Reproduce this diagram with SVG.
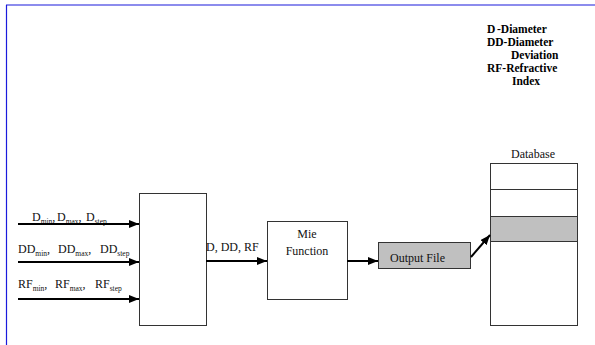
<svg xmlns="http://www.w3.org/2000/svg" width="595" height="345" viewBox="0 0 595 345">
<style>
text{font-family:'Liberation Serif','DejaVu Serif','Times New Roman',serif}
.t{font-size:12px;fill:#111}
.s{font-size:7.5px}
.lg{font-size:11.5px;font-weight:bold;fill:#000}
.box{fill:#fff;stroke:#333;stroke-width:1}
.gray{fill:#c0c0c0;stroke:#333;stroke-width:1}
.ln{stroke:#000;stroke-width:2;fill:none;marker-end:url(#ah)}
</style>
<defs>
<marker id="ah" markerUnits="userSpaceOnUse" markerWidth="11" markerHeight="9" refX="10" refY="4" orient="auto">
<path d="M0,0 L10,4 L0,8 z" fill="#000"/>
</marker>
</defs>
<rect x="0" y="0" width="595" height="345" fill="#fff"/>
<g id="frame">
<line x1="6" y1="5" x2="595" y2="5" stroke="#1a1adc" stroke-width="1.2"/>
<line x1="6.5" y1="5" x2="6.5" y2="345" stroke="#1a1adc" stroke-width="1.2"/>
</g>
<g id="legend">
<text class="lg" x="487" y="33">D<tspan x="497">-Diameter</tspan></text>
<text class="lg" x="487" y="46">DD-Diameter</text>
<text class="lg" x="511" y="59">Deviation</text>
<text class="lg" x="487" y="72">RF-Refractive</text>
<text class="lg" x="512" y="85">Index</text>
</g>
<g id="inputs">
<text class="t" y="221"><tspan x="32">D</tspan><tspan class="s" dy="3">min</tspan><tspan dy="-3">,</tspan><tspan x="57">D</tspan><tspan class="s" dy="3">max</tspan><tspan dy="-3">,</tspan><tspan x="86">D</tspan><tspan class="s" dy="3">step</tspan></text>
<text class="t" y="253"><tspan x="18">DD</tspan><tspan class="s" dy="3">min</tspan><tspan dy="-3">,</tspan><tspan x="58">DD</tspan><tspan class="s" dy="3">max</tspan><tspan dy="-3">,</tspan><tspan x="100">DD</tspan><tspan class="s" dy="3">step</tspan></text>
<text class="t" y="288"><tspan x="18">RF</tspan><tspan class="s" dy="3">min</tspan><tspan dy="-3">,</tspan><tspan x="55">RF</tspan><tspan class="s" dy="3">max</tspan><tspan dy="-3">,</tspan><tspan x="95">RF</tspan><tspan class="s" dy="3">step</tspan></text>
</g>
<g id="processor">
<rect class="box" x="139.5" y="193.5" width="67" height="132"/>
</g>
<g id="mie">
<rect class="box" x="267.5" y="221.5" width="80" height="78"/>
<text class="t" x="307" y="238" text-anchor="middle">Mie</text>
<text class="t" x="307" y="255" text-anchor="middle">Function</text>
</g>
<g id="output">
<rect class="gray" x="378.5" y="242.5" width="92" height="26"/>
<text class="t" x="390" y="262">Output File</text>
</g>
<g id="database">
<text class="t" x="533" y="158" text-anchor="middle">Database</text>
<rect class="box" x="490.5" y="163.5" width="87" height="162"/>
<rect class="gray" x="490.5" y="216.5" width="87" height="25"/>
<line x1="490.5" y1="189.5" x2="577.5" y2="189.5" stroke="#333"/>
</g>
<g id="connectors">
<line class="ln" x1="18" y1="224" x2="139" y2="224"/>
<line class="ln" x1="18" y1="262" x2="139" y2="262"/>
<line class="ln" x1="18" y1="299" x2="139" y2="299"/>
<line class="ln" x1="206" y1="261" x2="267" y2="261"/>
<text class="t" x="206" y="251" font-size="11">D, DD, RF</text>
<line class="ln" x1="347" y1="261" x2="378" y2="261"/>
<line class="ln" x1="471" y1="257" x2="490" y2="235"/>
</g>
</svg>
